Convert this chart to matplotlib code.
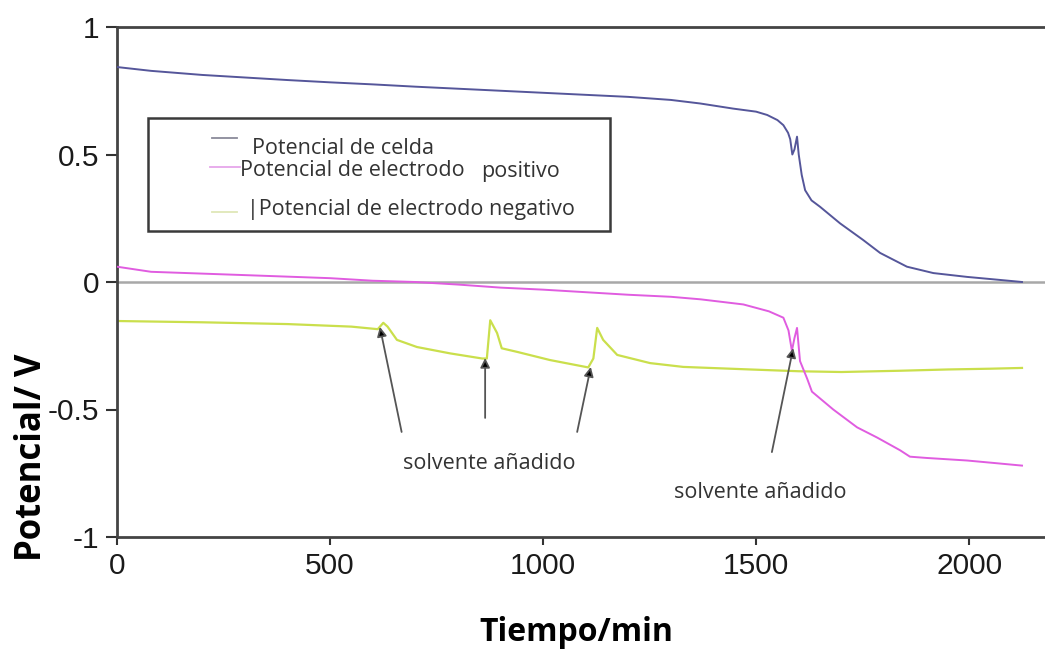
import matplotlib
matplotlib.use("Agg")
import matplotlib.pyplot as plt
from matplotlib.lines import Line2D
from matplotlib.patches import Rectangle

# potencial de celda
t_celda = [0, 80, 200, 300, 400, 500, 600, 700, 800, 900, 1000, 1100, 1200, 1300,
           1369, 1446, 1500, 1526, 1550, 1564, 1575, 1580, 1585, 1590, 1596, 1600,
           1607, 1615, 1630, 1650, 1697, 1751, 1791, 1854, 1916, 1995, 2073, 2124]
v_celda = [0.843, 0.828, 0.812, 0.802, 0.792, 0.783, 0.775, 0.766, 0.758, 0.750, 0.742,
           0.734, 0.726, 0.714, 0.700, 0.680, 0.668, 0.655, 0.635, 0.615, 0.585, 0.56,
           0.50, 0.52, 0.57, 0.50, 0.42, 0.36, 0.32, 0.295, 0.23, 0.165, 0.114, 0.06,
           0.035, 0.02, 0.008, 0.0]

# potencial de electrodo positivo
t_pos = [0, 80, 300, 500, 600, 700, 800, 900, 1000, 1100, 1200, 1300, 1370, 1470,
         1530, 1564, 1576, 1584, 1590, 1596, 1603, 1620, 1631, 1681, 1737, 1784,
         1838, 1861, 1900, 1995, 2060, 2124]
v_pos = [0.06, 0.04, 0.027, 0.015, 0.005, 0.0, -0.01, -0.022, -0.03, -0.04, -0.05,
         -0.058, -0.068, -0.088, -0.115, -0.14, -0.19, -0.27, -0.22, -0.18, -0.31,
         -0.38, -0.43, -0.50, -0.57, -0.61, -0.66, -0.685, -0.69, -0.70, -0.71, -0.72]

# potencial de electrodo negativo
t_neg = [0, 200, 400, 550, 612, 625, 635, 657, 704, 782, 857, 868, 876, 892, 903,
         939, 1016, 1106, 1118, 1127, 1141, 1174, 1251, 1329, 1486, 1600, 1700,
         1838, 1950, 2050, 2124]
v_neg = [-0.153, -0.158, -0.165, -0.175, -0.185, -0.16, -0.175, -0.227, -0.255,
         -0.28, -0.30, -0.30, -0.15, -0.20, -0.26, -0.274, -0.306, -0.335, -0.30,
         -0.18, -0.227, -0.286, -0.318, -0.333, -0.343, -0.35, -0.353, -0.348,
         -0.343, -0.34, -0.337]

# flechas de "solvente añadido": punta y cola
flecha_punta = [(617, -0.176), (864, -0.298), (1112, -0.333), (1587, -0.259)]
flecha_cola = [(668, -0.588), (864, -0.533), (1080, -0.588), (1537, -0.667)]
etiquetas = [("solvente añadido", 873, -0.71), ("solvente añadido", 1509, -0.827)]

xticks = [0, 500, 1000, 1500, 2000]
yticks = [-1, -0.5, 0, 0.5, 1]
ytick_labels = ["-1", "-0.5", "0", "0.5", "1"]

c_celda = "#55569a"
c_pos = "#e05ce0"
c_neg = "#cadf4c"

fig = plt.figure(figsize=(10.45, 6.51), dpi=100)
ax = fig.add_axes([117 / 1045, 114 / 651, 928 / 1045, 510 / 651])

ax.axhline(0, color="#a8a8a8", lw=1.8, zorder=1)
ax.plot(t_celda, v_celda, color=c_celda, lw=1.4, zorder=3)
ax.plot(t_pos, v_pos, color=c_pos, lw=1.4, zorder=3)
ax.plot(t_neg, v_neg, color=c_neg, lw=1.6, zorder=2)

for (xp, yp), (xc, yc) in zip(flecha_punta, flecha_cola):
    ax.annotate("", xy=(xp, yp), xytext=(xc, yc),
                arrowprops=dict(arrowstyle="-|>", color="#555555", fc="black",
                                lw=1.3, mutation_scale=14, shrinkA=0, shrinkB=0),
                zorder=4)

for txt, xt, yt in etiquetas:
    ax.text(xt, yt, txt, ha="center", va="center", fontsize=15.5,
            family="Open Sans", color="#333333")

ax.set_xlim(0, 2178)
ax.set_ylim(-1, 1)
ax.set_xticks(xticks)
ax.set_yticks(yticks)
ax.set_yticklabels(ytick_labels)
ax.tick_params(labelsize=21.5, colors="#333333", width=1.5)
ax.tick_params(axis="x", length=6, pad=5)
ax.tick_params(axis="y", length=8, pad=5)
for lab in ax.get_xticklabels() + ax.get_yticklabels():
    lab.set_family("Liberation Sans")
    lab.set_color("#1a1a1a")

for side in ["top", "bottom", "left"]:
    ax.spines[side].set_color("#444444")
    ax.spines[side].set_linewidth(2)
ax.spines["right"].set_visible(False)

ax.set_xlabel("Tiempo/min", fontsize=23, fontweight="bold", family="Open Sans")
ax.xaxis.set_label_coords(0.495, -0.155)
ax.set_ylabel("Potencial/ V", fontsize=25, fontweight="bold", family="Open Sans")
ax.yaxis.set_label_coords(-0.072, 0.157)

# leyenda dibujada a mano
def fx(px):
    return (px - 117) / 928

def fy(py):
    return (537 - py) / 510

ax.add_patch(Rectangle((fx(148), fy(231)), fx(610) - fx(148), fy(118) - fy(231),
                       transform=ax.transAxes, fill=True, fc="white",
                       ec="#3a3a3a", lw=1.8, zorder=5))
items = [
    ("#8a8a9a", 212, 237, 138, "Potencial de celda", 252, 148),
    ("#e6a6ea", 210, 240, 167, "Potencial de electrodo", 240, 170),
    ("#dfe7b8", 212, 237, 212, "|Potencial de electrodo negativo", 247, 210),
]
for col, x0, x1, yl, txt, xt, yt in items:
    ax.add_line(Line2D([fx(x0), fx(x1)], [fy(yl), fy(yl)], transform=ax.transAxes,
                       color=col, lw=1.3, zorder=6))
    ax.text(fx(xt), fy(yt), txt, transform=ax.transAxes, ha="left", va="center",
            fontsize=15.5, family="Open Sans", color="#333333", zorder=6)
ax.text(fx(481), fy(172), "positivo", transform=ax.transAxes, ha="left",
        va="center", fontsize=15.5, family="Open Sans", color="#333333", zorder=6)

fig.savefig("out.png", dpi=100)
